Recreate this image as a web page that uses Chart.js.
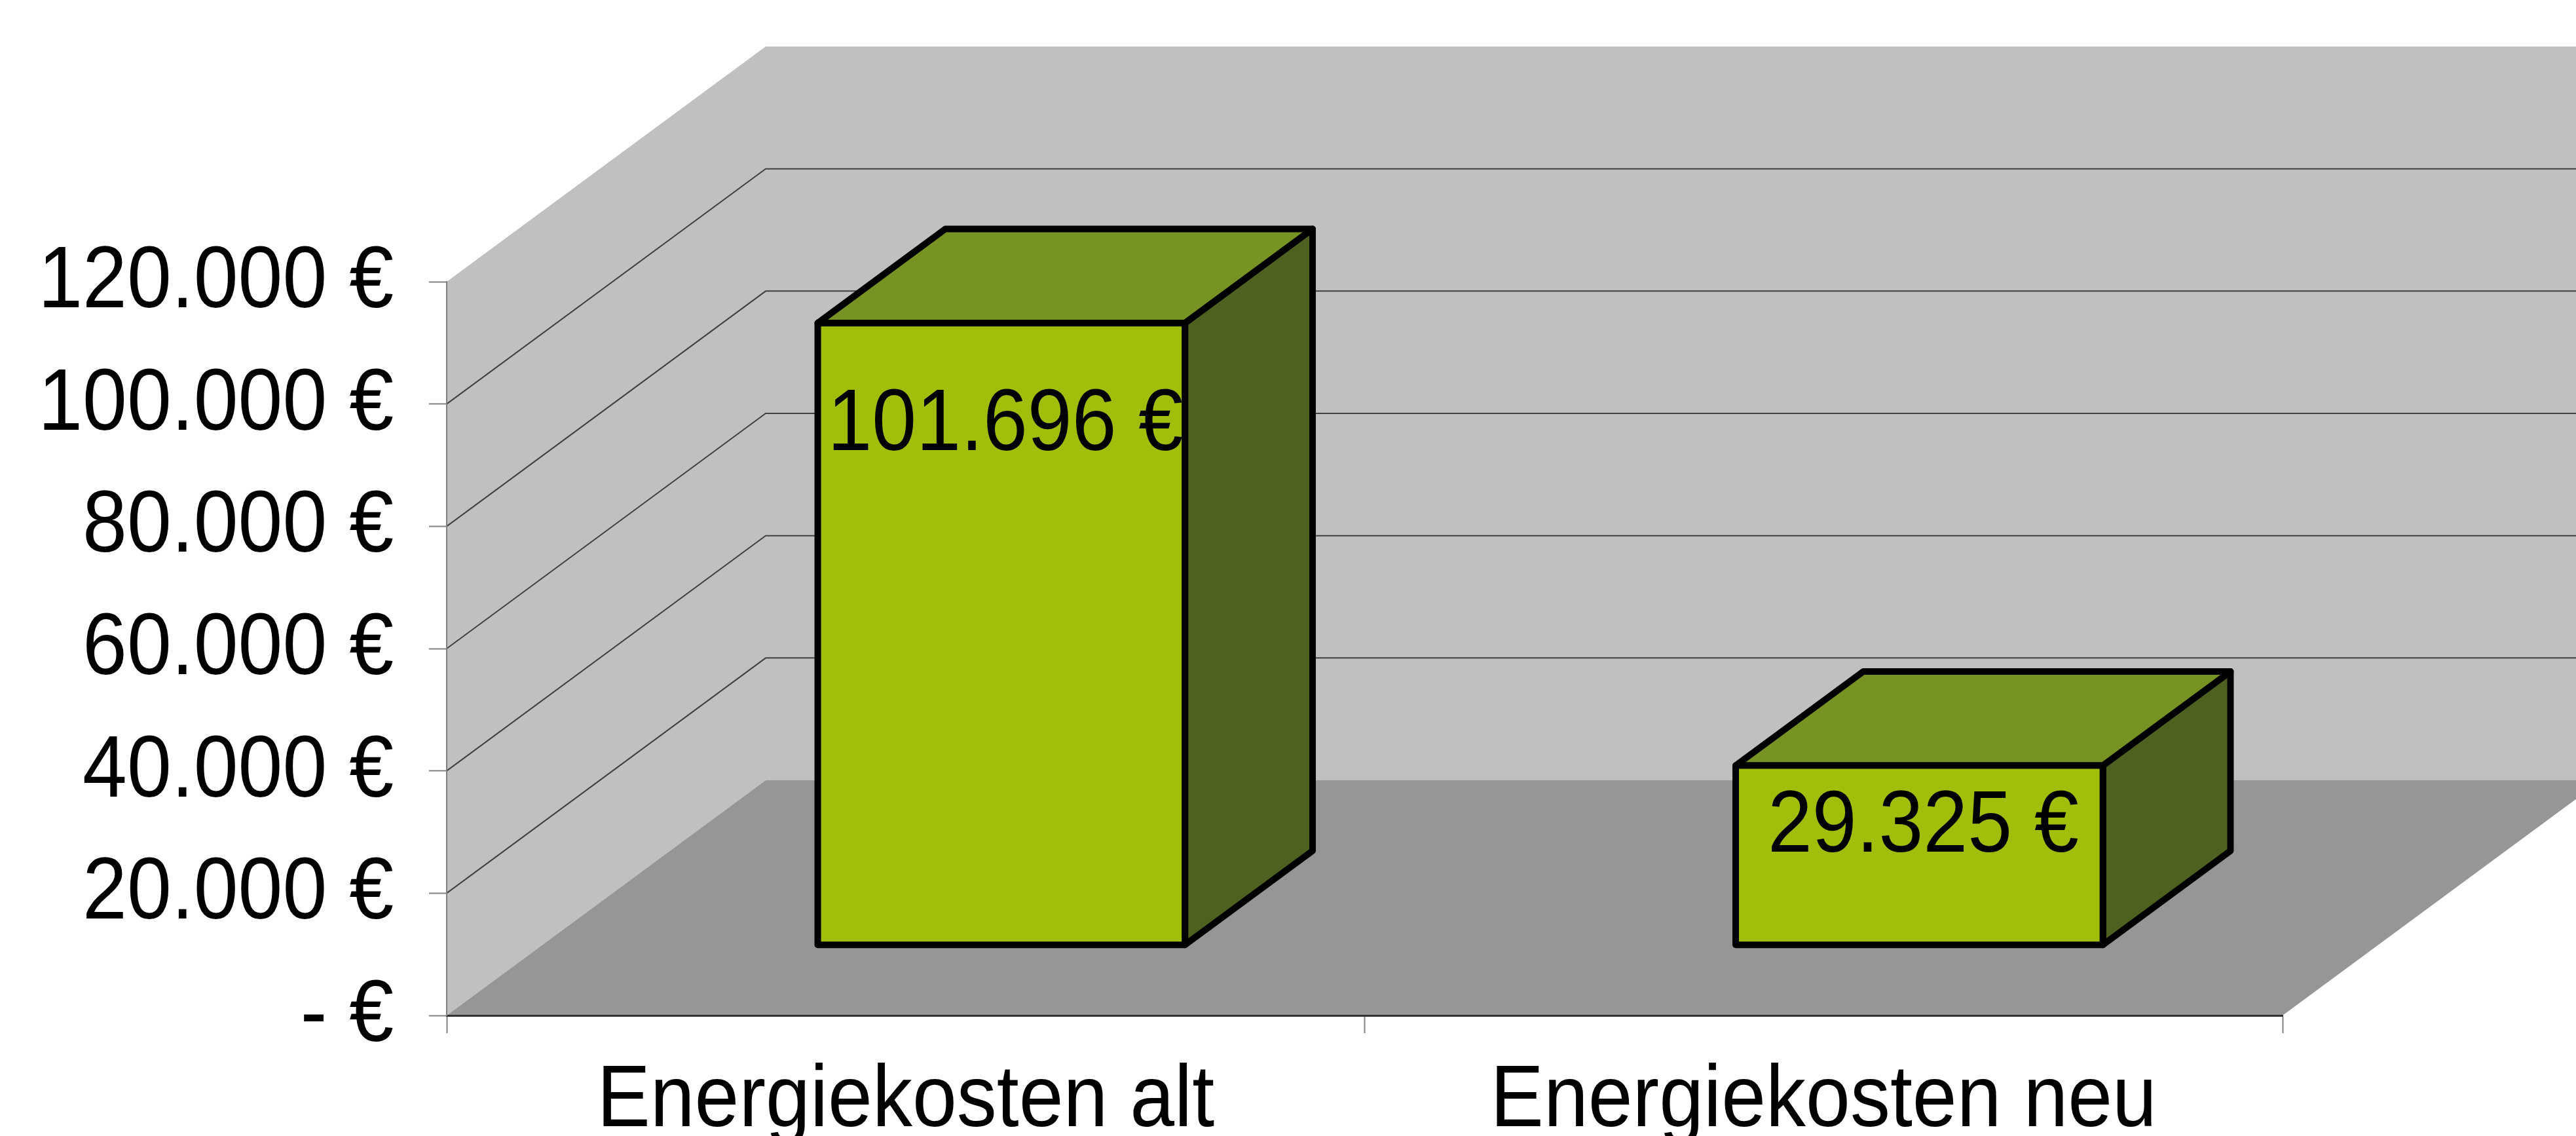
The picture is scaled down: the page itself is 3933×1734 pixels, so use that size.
<!DOCTYPE html>
<html>
<head>
<meta charset="utf-8">
<script src="https://cdn.jsdelivr.net/npm/chart.js@4.4.1/dist/chart.umd.min.js"></script>
<style>
  html, body { margin: 0; padding: 0; background: #fff; }
  #wrap { width: 3933px; height: 1734px; position: relative; }
</style>
</head>
<body>
<div id="wrap"><canvas id="myChart"></canvas></div>
<script>
const categories = ['Energiekosten alt', 'Energiekosten neu'];
const costs = [101696, 29325];
const axisMin = 0;
const axisMax = 120000;
const axisStep = 20000;

const fontFamily = '"Liberation Sans", Arial, sans-serif';
const fontSize = 122;
const stretchY = 1.1;                // the original text is a bit taller than Arial
const depth = { x: 487, y: -359 };   // 3d offset of the back wall
const barFront = 0.3, barBack = 0.7; // bar position inside the depth

function euro(v) {
    if (v === 0) return '- €';
    return String(v).replace(/\B(?=(\d{3})+(?!\d))/g, '.') + ' €';
}

function poly(ctx, pts, fill, stroke, lw) {
    ctx.beginPath();
    ctx.moveTo(pts[0][0], pts[0][1]);
    for (let i = 1; i < pts.length; i++) ctx.lineTo(pts[i][0], pts[i][1]);
    ctx.closePath();
    if (fill) { ctx.fillStyle = fill; ctx.fill(); }
    if (stroke) { ctx.strokeStyle = stroke; ctx.lineWidth = lw; ctx.lineJoin = 'round'; ctx.stroke(); }
}

function label(ctx, text, x, y, align) {
    ctx.save();
    ctx.translate(x, y);
    ctx.scale(1, stretchY);
    ctx.fillStyle = '#000';
    ctx.font = fontSize + 'px ' + fontFamily;
    ctx.textAlign = align;
    ctx.textBaseline = 'middle';
    ctx.fillText(text, 0, 0);
    ctx.restore();
}

// walls, floor and the grid on the walls
const wallsPlugin = {
    id: 'walls',
    beforeDraw(chart) {
        const ctx = chart.ctx;
        const x = chart.scales.x, y = chart.scales.y;
        const L = x.left, R = x.right;
        const y0 = y.getPixelForValue(axisMin), yT = y.getPixelForValue(axisMax);
        const dx = depth.x, dy = depth.y;
        ctx.save();
        poly(ctx, [[L, yT], [L + dx, yT + dy], [L + dx, y0 + dy], [L, y0]], '#C0C0C0');
        poly(ctx, [[L + dx, yT + dy], [R + dx, yT + dy], [R + dx, y0 + dy], [L + dx, y0 + dy]], '#C0C0C0');
        poly(ctx, [[L, y0], [R, y0], [R + dx, y0 + dy], [L + dx, y0 + dy]], '#969696');
        ctx.strokeStyle = '#404040';
        ctx.lineWidth = 2;
        for (let v = axisMin + axisStep; v < axisMax; v += axisStep) {
            const py = y.getPixelForValue(v);
            ctx.beginPath();
            ctx.moveTo(L, py);
            ctx.lineTo(L + dx, py + dy);
            ctx.lineTo(R + dx, py + dy);
            ctx.stroke();
        }
        ctx.restore();
    }
};

// 3d boxes + value labels
const boxPlugin = {
    id: 'boxes',
    afterDatasetsDraw(chart) {
        const ctx = chart.ctx;
        const y = chart.scales.y;
        const meta = chart.getDatasetMeta(0);
        const values = chart.data.datasets[0].data;
        const fx = depth.x * barFront, fy = depth.y * barFront;
        const ddx = depth.x * (barBack - barFront), ddy = depth.y * (barBack - barFront);
        ctx.save();
        meta.data.forEach((bar, i) => {
            const half = bar.width / 2;
            const x1 = bar.x - half + fx, x2 = bar.x + half + fx;
            const top = y.getPixelForValue(values[i]) + fy;
            const bottom = y.getPixelForValue(0) + fy;
            poly(ctx, [[x2, top], [x2 + ddx, top + ddy], [x2 + ddx, bottom + ddy], [x2, bottom]], '#4E6121', '#000', 10);
            poly(ctx, [[x1, top], [x1 + ddx, top + ddy], [x2 + ddx, top + ddy], [x2, top]], '#769323', '#000', 10);
            poly(ctx, [[x1, top], [x2, top], [x2, bottom], [x1, bottom]], '#A0BE0A', '#000', 10);

            const h = bottom - top;
            label(ctx, euro(values[i]), (x1 + x2) / 2 + 6, top + 69 + 0.093 * h, 'center');
        });
        ctx.restore();
    }
};

// axis texts, drawn by hand so they can be stretched like the original
const axisTextPlugin = {
    id: 'axisText',
    afterDraw(chart) {
        const ctx = chart.ctx;
        const x = chart.scales.x, y = chart.scales.y;
        y.ticks.forEach((t) => {
            label(ctx, euro(t.value), y.right - 27 - 54, y.getPixelForValue(t.value) + 2, 'right');
        });
        categories.forEach((c, i) => {
            label(ctx, c, x.getPixelForValue(i), x.top + 27 + 24 + 73 + 8, 'center');
        });
    }
};

function createChart() {
    const ctx = document.getElementById('myChart').getContext('2d');
    const config = {
        type: 'bar',
        data: {
            labels: categories,
            datasets: [
                {
                    label: 'Energiekosten',
                    data: costs,
                    backgroundColor: 'rgba(0,0,0,0)',
                    borderWidth: 0,
                    barPercentage: 0.4,
                    categoryPercentage: 1
                }
            ]
        },
        options: {
            responsive: true,
            maintainAspectRatio: false,
            animation: false,
            layout: { padding: { top: 430, right: 448, left: 0, bottom: 0 } },
            scales: {
                x: {
                    grid: {
                        offset: true,
                        drawOnChartArea: false,
                        drawTicks: true,
                        tickLength: 27,
                        tickColor: '#808080',
                        tickWidth: 2
                    },
                    border: { display: true, color: '#333333', width: 3 },
                    ticks: { display: false },
                    afterFit(scale) { scale.height = 184; }
                },
                y: {
                    min: axisMin,
                    max: axisMax,
                    grid: {
                        drawOnChartArea: false,
                        drawTicks: true,
                        tickLength: 27,
                        tickColor: '#808080',
                        tickWidth: 2
                    },
                    border: { display: true, color: '#808080', width: 2 },
                    ticks: { display: false, stepSize: axisStep },
                    afterFit(scale) { scale.width = 682; }
                }
            },
            plugins: {
                legend: { display: false },
                tooltip: { enabled: false }
            }
        },
        plugins: [wallsPlugin, boxPlugin, axisTextPlugin]
    };
    new Chart(ctx, config);
}

createChart();
</script>
</body>
</html>
